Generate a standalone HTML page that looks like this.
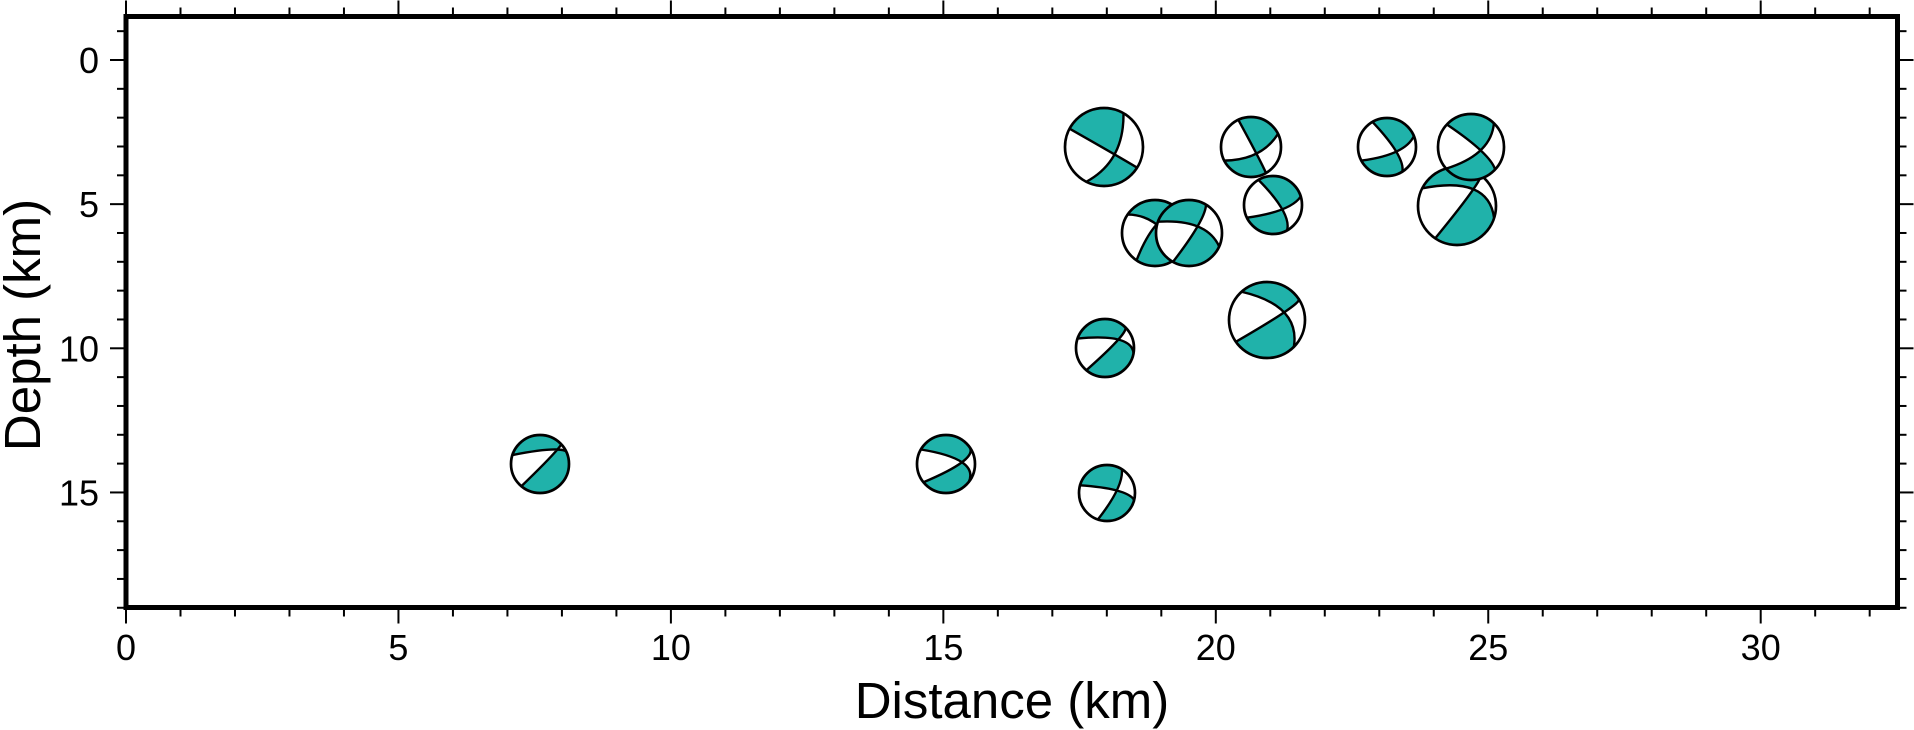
<!DOCTYPE html>
<html><head><meta charset="utf-8"><style>
html,body{margin:0;padding:0;background:#fff;}
svg{display:block;font-family:"Liberation Sans",sans-serif;}
</style></head><body>
<svg id="s" width="1914" height="730" xmlns="http://www.w3.org/2000/svg">
<defs id="defs"></defs>
<rect width="1914" height="730" fill="#fff"/>
<g id="ticks" stroke="#000" stroke-width="2"></g>
<g id="balls"></g>
<rect x="126" y="16.5" width="1771.5" height="591" fill="none" stroke="#000" stroke-width="5"/>
<g id="labels" font-size="36" fill="#000"></g>
<text x="1012" y="718" font-size="51" text-anchor="middle">Distance (km)</text>
<text transform="translate(40,325) rotate(-90)" font-size="51" text-anchor="middle">Depth (km)</text>
</svg>
<script>
var NS="http://www.w3.org/2000/svg";
function el(p,t,a,txt){var e=document.createElementNS(NS,t);for(var k in a)e.setAttribute(k,a[k]);if(txt!==undefined)e.textContent=txt;p.appendChild(e);return e;}
var X0=126,SX=54.49,Y0=60,SY=28.83,L=126,R=1897.5,T=16.5,B=607.5;
var tk=document.getElementById('ticks'),lb=document.getElementById('labels'),defs=document.getElementById('defs');
for(var k=0;k<=32;k++){var x=X0+k*SX;var maj=k%5==0;
 el(tk,'line',{x1:x,x2:x,y1:B,y2:B+(maj?16:9)});
 el(tk,'line',{x1:x,x2:x,y1:T,y2:T-(maj?16:9)});
 if(maj)el(lb,'text',{x:x,y:660,'text-anchor':'middle'},String(k));}
for(var d=-1;d<=19;d++){var y=Y0+d*SY;var maj=d%5==0;
 el(tk,'line',{x1:L,x2:L-(maj?16:9),y1:y,y2:y});
 el(tk,'line',{x1:R,x2:R+(maj?16:9),y1:y,y2:y});
 if(maj&&d>=0)el(lb,'text',{x:99,y:y+13,'text-anchor':'end'},String(d));}
var balls=[
[540,464,29,0.6,-0.5,198,311,347,130],
[946,464,29,0.55,-0.06,210,325,38,141],
[1107,493,28,0.35,-0.09,196,302,14,109],
[1105,348,29,0.46,-0.29,199,313,10,130],
[1267,320,38,0.45,-0.2,228,327,45,145],
[1155,233,33,0.05,-0.26,214,320,40,124],
[1189,233,33,0.26,-0.2,200,301,24,119],
[1104,147,39,0.27,0.19,208,300,32,117],
[1251,147,30,0.18,0.22,245,334,60,153],
[1273,205,29,0.32,0.15,240,343,61,154],
[1387,147,29,0.32,0.16,240,338,58,152],
[1457,206,39,0.42,-0.43,207,305,18,124],
[1471,147,33,0.29,0.1,223,314,43,139]
];
var g=document.getElementById('balls');
function pt(cx,cy,r,a){a=a*Math.PI/180;return [cx+r*Math.cos(a),cy+r*Math.sin(a)];}
function s(p){return p[0].toFixed(2)+' '+p[1].toFixed(2);}
function mid(a,b){return [(a[0]+b[0])/2,(a[1]+b[1])/2];}
balls.forEach(function(b,i){
 var cx=b[0],cy=b[1],r=b[2],P=[cx+b[3]*r,cy+b[4]*r];
 var cp=el(defs,'clipPath',{id:'c'+i});el(cp,'circle',{cx:cx,cy:cy,r:r});
 var A=pt(cx,cy,r,b[5]),Bp=pt(cx,cy,r,b[6]),C=pt(cx,cy,r,b[7]),D=pt(cx,cy,r,b[8]);
 var m1=mid(A,C),Q1=[2*P[0]-m1[0],2*P[1]-m1[1]];
 var m2=mid(Bp,D),Q2=[2*P[0]-m2[0],2*P[1]-m2[1]];
 var cA=mid(A,Q1),cC=mid(Q1,C),cB=mid(Bp,Q2),cD=mid(Q2,D);
 el(g,'circle',{cx:cx,cy:cy,r:r,fill:'#fff'});
 var gg=el(g,'g',{'clip-path':'url(#c'+i+')'});
 function arc(a1,a2,p2){var sp=((a2-a1)%360+360)%360;return ' A'+r+' '+r+' 0 '+(sp>180?1:0)+' 1 '+s(p2);}
 el(gg,'path',{d:'M'+s(P)+' Q'+s(cA)+' '+s(A)+arc(b[5],b[6],Bp)+' Q'+s(cB)+' '+s(P)+' Z',fill:'#20B2AA'});
 el(gg,'path',{d:'M'+s(P)+' Q'+s(cC)+' '+s(C)+arc(b[7],b[8],D)+' Q'+s(cD)+' '+s(P)+' Z',fill:'#20B2AA'});
 el(gg,'path',{d:'M'+s(A)+' Q'+s(Q1)+' '+s(C)+' M'+s(Bp)+' Q'+s(Q2)+' '+s(D),fill:'none',stroke:'#000','stroke-width':2.4});
 el(g,'circle',{cx:cx,cy:cy,r:r,fill:'none',stroke:'#000','stroke-width':2.7});
});
</script>
</body></html>
